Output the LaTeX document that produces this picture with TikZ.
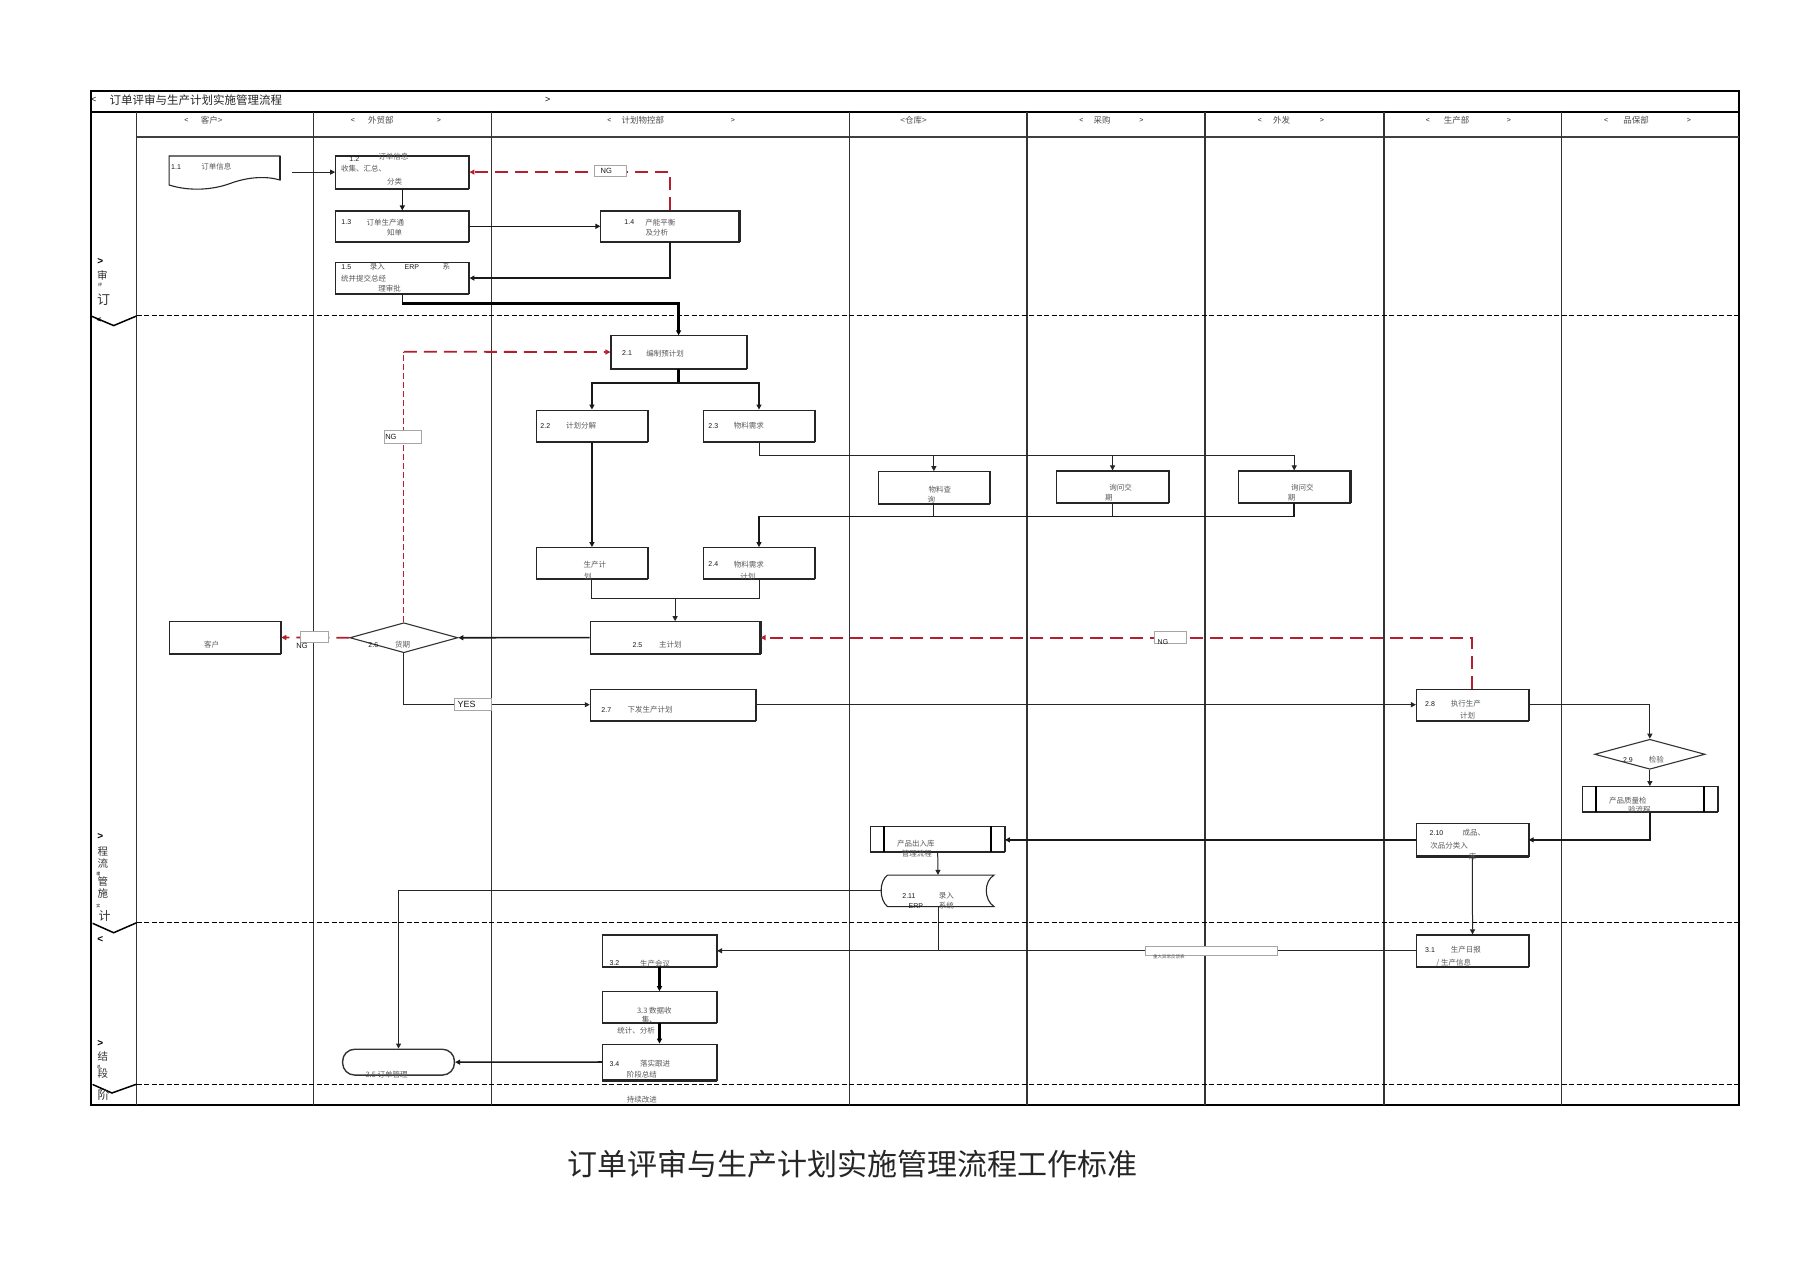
\documentclass[tikz,border=0pt]{standalone}
\usepackage{fontspec}
\setmainfont{Liberation Sans}
\newfontfamily\cjk{Noto Sans CJK SC}
\usetikzlibrary{arrows.meta,shapes.geometric,calc}
\definecolor{ngred}{RGB}{180,30,45}
\tikzset{
  box/.style={draw=black!85, line width=1.1pt, fill=white, inner sep=0pt, rectangle},
  shd/.style={append after command={(\tikzlastnode.north east) edge[line width=2pt,black!85] (\tikzlastnode.south east) (\tikzlastnode.south east) edge[line width=2pt,black!85] (\tikzlastnode.south west)}},
  anchorbox/.style={inner sep=0pt, rectangle},
  num/.style={font=\fontsize{7}{8}\selectfont, text=black!90, inner sep=0pt},
  zh/.style={font=\cjk\fontsize{7.5}{8}\selectfont, text=black!65, inner sep=0pt},
  hd/.style={font=\cjk\fontsize{8.5}{9}\selectfont, text=black!70, inner sep=0pt},
  bandzh/.style={font=\cjk\fontsize{10.5}{11}\selectfont, text=black!80, inner sep=0pt},
  l1/.style={line width=1pt, draw=black!85},
  l2/.style={line width=1.6pt, draw=black!90},
  l3/.style={line width=2.6pt, draw=black},
  arw/.style={-{Triangle[length=5pt,width=5pt]}},
  ngline/.style={draw=ngred, line width=1.8pt, dash pattern=on 13pt off 7pt},
  ngthin/.style={draw=ngred, line width=1pt, dash pattern=on 6pt off 3pt},
  lbl/.style={draw=black!35, fill=white, line width=0.5pt, inner sep=0pt, rectangle},
  sepline/.style={line width=1.1pt, dash pattern=on 5pt off 2.5pt},
}
\newcommand\tz[3]{\node[zh] (#1) at (#2) {#3};}
\newcommand\tn[3]{\node[num] (#1) at (#2) {#3};}
\begin{document}
\begin{tikzpicture}[x=1.1505pt,y=-1.1505pt]
\fill[white] (0,0) rectangle (1568,1107);
\useasboundingbox (0,0) rectangle (1568,1107);

% ---------- frame and lanes ----------
\draw[line width=1.5pt] (79,79) rectangle (1511.5,960.5);
\draw[line width=2pt] (79,97) -- (1511.5,97);
\draw[line width=2.2pt, black!75] (118.8,119.4) -- (1511.5,119.4);
\foreach \x in {118.8,272.8,427.5,738.2,892.6,1047.3,1203,1357.5}
  \draw[line width=1.2pt, black!80] (\x,97) -- (\x,960.5);
\foreach \y in {274.6,802,942.5}
  \draw[sepline] (118.8,\y) -- (1511.5,\y);
\draw[line width=1.5pt] (79,274.6) -- (98.8,283) -- (118.8,274.6);
\draw[line width=1.5pt] (80.5,802.5) -- (98.8,810.7) -- (118.8,802);
\draw[line width=1.5pt] (80.5,942.6) -- (97.3,950) -- (118.8,942.3);

% ---------- title ----------
\node[font=\fontsize{9}{10}\selectfont, inner sep=0pt] (ta) at (81.5,87) {<};
\node[font=\cjk\fontsize{11.5}{12}\selectfont, anchor=west, inner sep=0pt, text=black!85] (tb) at (95,87) {订单评审与生产计划实施管理流程};
\node[font=\fontsize{9}{10}\selectfont, inner sep=0pt] (tc) at (476,87) {>};

% ---------- lane headers ----------
\node[num] (h1a) at (162,104.5) {<};
\node[hd] (h1b) at (184,104.5) {客户>};
\node[num] (h2a) at (306.7,104.5) {<};
\node[hd] (h2b) at (331,104.5) {外贸部};
\node[num] (h2c) at (381.6,104.5) {>};
\node[num] (h3a) at (529.6,104.5) {<};
\node[hd] (h3b) at (558.7,104.5) {计划物控部};
\node[num] (h3c) at (637,104.5) {>};
\node[hd] (h4) at (794,104.5) {<仓库>};
\node[num] (h5a) at (940,104.5) {<};
\node[hd] (h5b) at (958,104.5) {采购};
\node[num] (h5c) at (992,104.5) {>};
\node[num] (h6a) at (1095,104.5) {<};
\node[hd] (h6b) at (1114,104.5) {外发};
\node[num] (h6c) at (1149,104.5) {>};
\node[num] (h7a) at (1241,104.5) {<};
\node[hd] (h7b) at (1266,104.5) {生产部};
\node[num] (h7c) at (1311.4,104.5) {>};
\node[num] (h8a) at (1396,104.5) {<};
\node[hd] (h8b) at (1422,104.5) {品保部};
\node[num] (h8c) at (1468,104.5) {>};

% ---------- phase labels in left band ----------
\node[font=\bfseries\fontsize{10}{10}\selectfont, inner sep=0pt] (p1a) at (87.2,227.5) {>};
\node[bandzh] (p1b) at (89,239) {审};
\node[font=\cjk\fontsize{4}{4}\selectfont, inner sep=0pt] (p1c) at (87,248) {评};
\node[bandzh, font=\cjk\fontsize{13}{13}\selectfont] (p1d) at (90,260.5) {订};
\node[font=\bfseries\fontsize{8}{8}\selectfont, inner sep=0pt] (p1e) at (86,278.5) {<};

\node[font=\bfseries\fontsize{10}{10}\selectfont, inner sep=0pt] (p2a) at (87.2,727.2) {>};
\node[bandzh] (p2b) at (89.5,740.3) {程};
\node[bandzh] (p2c) at (89.5,750.6) {流};
\node[font=\cjk\fontsize{4}{4}\selectfont, inner sep=0pt] (p2d) at (85.5,759.8) {理};
\node[bandzh] (p2e) at (89.5,766.5) {管};
\node[bandzh] (p2f) at (89.5,776.8) {施};
\node[font=\cjk\fontsize{4}{4}\selectfont, inner sep=0pt] (p2g) at (85.5,787) {实};
\node[bandzh, font=\cjk\fontsize{12}{12}\selectfont] (p2h) at (91,796.5) {计};
\node[font=\bfseries\fontsize{10}{10}\selectfont, inner sep=0pt] (p2i) at (87.2,817) {<};

\node[font=\bfseries\fontsize{10}{10}\selectfont, inner sep=0pt] (p3a) at (87.2,906.9) {>};
\node[bandzh] (p3b) at (89.5,918.5) {结};
\node[font=\cjk\fontsize{4}{4}\selectfont, inner sep=0pt] (p3c) at (86,927) {总};
\node[bandzh] (p3d) at (89.5,933) {段};
\node[bandzh, font=\cjk\fontsize{12}{12}\selectfont] (p3e) at (90,952) {阶};

% ---------- phase 1 shapes ----------
\node[anchorbox, minimum width=111.6pt, minimum height=28pt] (n11) at (195.2,148) {};
\draw[line width=1.1pt, black!85] (147,160.8) -- (147,135.6) -- (243.5,135.6) -- (243.5,156.5)
  .. controls (232,153) and (216,153.5) .. (200,159.5)
  .. controls (185,165) and (165,166.5) .. (147,160.8);
\draw[line width=2pt, black!85] (243.5,135.6) -- (243.5,156.5);
\coordinate (c11) at (253.5,149.6);

\node[box, shd, minimum width=133.2pt, minimum height=32.3pt] (n12) at (349.7,149.6) {};
\node[box, shd, minimum width=133.2pt, minimum height=30.6pt] (n13) at (349.7,196.7) {};
\node[box, shd, minimum width=138pt, minimum height=30.6pt] (n14) at (582.3,196.7) {};
\node[box, shd, minimum width=133.2pt, minimum height=30.7pt] (n15) at (349.7,241.7) {};

% ---------- phase 2 shapes ----------
\node[box, shd, minimum width=135.2pt, minimum height=32.4pt] (n21) at (589.8,306) {};
\node[box, shd, minimum width=111.6pt, minimum height=31.6pt] (n22) at (514.5,370.2) {};
\node[box, shd, minimum width=111.6pt, minimum height=31.6pt] (n23) at (659.7,370.2) {};
\node[box, shd, minimum width=111.6pt, minimum height=32.2pt] (nwl) at (811.7,424) {};
\node[box, shd, minimum width=111.6pt, minimum height=31.8pt] (ncg) at (967,423.2) {};
\node[box, shd, minimum width=111.6pt, minimum height=31.8pt] (nwf) at (1124.9,423.2) {};
\node[box, shd, minimum width=111.6pt, minimum height=31.1pt] (nsc) at (514.5,489.5) {};
\node[box, shd, minimum width=111.6pt, minimum height=31.1pt] (n24) at (659.7,489.5) {};
\node[box, shd, minimum width=169.8pt, minimum height=31.8pt] (n25) at (586.8,554.2) {};
\node[draw=black!80, line width=1.1pt, fill=white, shape=diamond, inner sep=0pt, minimum width=108pt, minimum height=30pt] (n26) at (351,554.3) {};
\node[box, shd, minimum width=111.6pt, minimum height=31.5pt] (nkh) at (195.5,554.1) {};
\node[box, shd, minimum width=165.4pt, minimum height=31.1pt] (n27) at (585,612.5) {};
\node[box, shd, minimum width=111.6pt, minimum height=31.1pt] (n28) at (1279.7,612.5) {};
\node[draw=black!80, line width=1.1pt, fill=white, shape=diamond, inner sep=0pt, minimum width=110.4pt, minimum height=30pt] (n29) at (1434,655.6) {};
\node[box, shd, minimum width=134.6pt, minimum height=25pt] (nzj) at (1434,694.6) {};
\draw[line width=2pt] ($(nzj.north west)+(12.2,0)$) -- ($(nzj.south west)+(12.2,0)$);
\draw[line width=2pt] ($(nzj.north east)+(-11.5,0)$) -- ($(nzj.south east)+(-11.5,0)$);
\node[box, shd, minimum width=111.6pt, minimum height=32.2pt] (n210) at (1279.7,730) {};
\node[box, shd, minimum width=133.5pt, minimum height=24.7pt] (ncr) at (815,729.2) {};
\draw[line width=2pt] ($(ncr.north west)+(11.9,0)$) -- ($(ncr.south west)+(11.9,0)$);
\draw[line width=2pt] ($(ncr.north east)+(-11.8,0)$) -- ($(ncr.south east)+(-11.8,0)$);
\node[anchorbox, minimum width=112pt, minimum height=31.5pt] (n211) at (815.3,774.3) {};
\draw[line width=1.1pt, black!85] (771.4,760.6) -- (864,760.6)
  .. controls (855,766) and (855,782) .. (864,788) -- (771.4,788)
  .. controls (764,782) and (764,766) .. (771.4,760.6);

% ---------- phase 3 shapes ----------
\node[box, shd, minimum width=111.6pt, minimum height=31.6pt] (n31) at (1279.9,826.4) {};
\node[box, shd, minimum width=114.1pt, minimum height=31.6pt] (n32) at (573.2,826.4) {};
\node[box, shd, minimum width=114.1pt, minimum height=31.1pt] (n33) at (573.2,875.5) {};
\node[box, shd, minimum width=114.1pt, minimum height=35.9pt] (n34) at (573.2,923.1) {};
\node[draw=black!80, line width=1.4pt, fill=white, rectangle, rounded corners=12pt, inner sep=0pt, minimum width=111.8pt, minimum height=25.8pt] (n35) at (346.4,923.2) {};

% ---------- connectors phase 1 ----------
\draw[l1, arw] (c11) -- (n12.west);
\draw[l2, arw] (n12.south) -- (n13.north);
\draw[l2, arw] (n13.east) -- (n14.west);
\draw[l2, arw] (n14.south) |- (n15.east);
\draw[ngline, arw] (n14.north) |- (n12.east);
\coordinate (c15) at (349.7,263.7);
\draw[l2] (n15.south) -- (c15);
\draw[l3, arw] (c15) -| (n21.north);

% ---------- connectors phase 2 ----------
\coordinate (c21) at (589.8,333);
\draw[l3] (n21.south) -- (c21);
\draw[l2, arw] (c21) -| (n22.north);
\draw[l2, arw] (c21) -| (n23.north);
\coordinate (c23) at (1124.9,395.8);
\draw[l1, arw] (n23.south) |- (c23) -- (nwf.north);
\draw[l1, arw] (nwl.north |- c23) -- (nwl.north);
\draw[l1, arw] (ncg.north |- c23) -- (ncg.north);
\coordinate (c24) at (659.7,449);
\draw[l1] (nwl.south) -- (nwl.south |- c24);
\draw[l1] (ncg.south) -- (ncg.south |- c24);
\draw[l2, arw] (nwf.south) |- (c24) -- (n24.north);
\draw[l2, arw] (n22.south) -- (nsc.north);
\coordinate (c25) at (586.8,520.6);
\draw[l1] (nsc.south) |- (n24.south |- c25) -- (n24.south);
\draw[l1, arw] (c25) -- (n25.north);
\draw[l2, arw] (n25.west) -- (n26.east);
\draw[ngline, arw] (n26.west) -- (nkh.east);
\coordinate (c26) at (351,305.7);
\draw[ngthin] (n26.north) -- (c26);
\draw[ngline, arw] (c26) -- (n21.west);
\draw[l1, arw] (n26.south) |- (n27.west);
\draw[l1, arw] (n27.east) -- (n28.west);
\draw[ngline, arw] (n28.north) |- (n25.east);
\draw[l1, arw] (n28.east) -| (n29.north);
\draw[l1, arw] (n29.south) -- (nzj.north);
\draw[l2, arw] (nzj.south) |- (n210.east);
\draw[l2, arw] (n210.west) -- (ncr.east |- n210.west);
\draw[l1, arw] (ncr.south) -- (n211.north);
\draw[l1, arw] (n211.west) -| (n35.north);

% ---------- connectors phase 3 ----------
\draw[l1, arw] (n210.south) -- (n31.north);
\draw[l1, arw] (n31.west) -- (n32.east);
\draw[l1] (n211.south) -- (n211.south |- n31.west);
\draw[l3, arw] (n32.south) -- (n33.north);
\draw[l3, arw] (n33.south) -- (n34.north);
\draw[l2, arw] (n34.west) -- (n35.east);

% ---------- connector labels ----------
\node[lbl, minimum width=32.5pt, minimum height=11.7pt] (g1) at (530.5,148.5) {};
\node[num, font=\fontsize{7.5}{8}\selectfont] (g1t) at (527,148.3) {NG};
\node[lbl, minimum width=37.3pt, minimum height=12.7pt] (g2) at (349.8,379.5) {};
\node[num, font=\fontsize{7.5}{8}\selectfont] (g2t) at (339.8,380) {NG};
\node[lbl, minimum width=27.4pt, minimum height=11pt] (g3) at (273,553.8) {};
\node[num, font=\fontsize{7.5}{8}\selectfont] (g3t) at (262.5,561) {NG};
\node[lbl, minimum width=31.4pt, minimum height=11.5pt] (g4) at (1017,554) {};
\node[num, font=\fontsize{7}{8}\selectfont] (g4t) at (1010.8,558) {NG};
\node[lbl, minimum width=36.8pt, minimum height=12pt] (g5) at (411,611.8) {};
\node[num, font=\fontsize{9}{9}\selectfont] (g5t) at (405.5,612.3) {YES};
\node[lbl, minimum width=132pt, minimum height=8.3pt] (g6) at (1052.4,826.4) {};
\node[zh, font=\cjk\fontsize{4.5}{5}\selectfont] (g6t) at (1016,831.5) {重大异常反馈表};

% ---------- box texts ----------
\tn{a1}{153,145}{1.1} \tz{a2}{188,145}{订单信息}
\tn{b1}{308,138}{1.2} \tz{b2}{342,136.5}{订单信息} \tz{b3}{316,146.3}{收集、汇总、} \tz{b4}{343,157.5}{分类}
\tn{c1}{301,193.2}{1.3} \tz{c2}{335,193.2}{订单生产通} \tz{c3}{343,201.8}{知单}
\tn{d1}{547,193.2}{1.4} \tz{d2}{574,193.2}{产能平衡} \tz{d3}{571,201.8}{及分析}
\tn{e1}{301,231.8}{1.5} \tz{e2}{328,231.8}{录入} \tn{e3}{358,231.8}{ERP} \tz{e4}{388,231.8}{系}
\tz{e5}{316,241.8}{统并提交总经} \tz{e6}{338.6,250.5}{理审批}
\tn{f1}{545,307}{2.1} \tz{f2}{578,307}{编制预计划}
\tn{g7}{474,370.3}{2.2} \tz{g8}{505,370.3}{计划分解}
\tn{i1}{620,370.3}{2.3} \tz{i2}{651,370.3}{物料需求}
\tz{j1}{817,426}{物料查} \tz{j2}{809.5,434.6}{询}
\tz{k1}{974,423.6}{询问交} \tz{k2}{963.7,432.3}{期}
\tz{k3}{1132,423.6}{询问交} \tz{k4}{1122.6,432.3}{期}
\tz{m1}{517,490.4}{生产计} \tz{m2}{511,501}{划}
\tn{o1}{620,490.4}{2.4} \tz{o2}{651,490.4}{物料需求} \tz{o3}{650,501}{计划}
\tn{q1}{554,560.6}{2.5} \tz{q2}{582.6,560.6}{主计划}
\tn{r1}{324.5,560.6}{2.6} \tz{r2}{350,560.6}{货期}
\tz{s1}{184,560.6}{客户}
\tn{u1}{527,617}{2.7} \tz{u2}{565,617}{下发生产计划}
\tn{v1}{1243,612}{2.8} \tz{v2}{1274,612}{执行生产} \tz{v3}{1275.6,622}{计划}
\tn{w1}{1415,660.6}{2.9} \tz{w2}{1439.7,660.6}{检验}
\tz{w3}{1415,696.3}{产品质量检} \tz{w4}{1425,704}{验流程}
\tn{y1}{1248.6,724}{2.10} \tz{y2}{1281,724}{成品、} \tz{y3}{1259.5,735.3}{次品分类入} \tz{y4}{1280,745}{库}
\tz{z1}{796,733}{产品出入库} \tz{z2}{797,741.7}{管理流程}
\tn{z3}{790,778.8}{2.11} \tz{z4}{822.6,778.8}{录入} \tn{z5}{796,787.5}{ERP} \tz{z6}{822.6,787.5}{系统}
\tn{x1}{1243,825.7}{3.1} \tz{x2}{1274,825.7}{生产日报} \tz{x3}{1263.6,837.3}{/ 生产信息}
\tn{x4}{534,837.3}{3.2} \tz{x5}{569.5,837.3}{生产会议}
\tz{x6}{568.7,878}{3.3 数据收} \tz{x7}{564.5,886}{集、} \tz{x8}{553,895.8}{统计、分析}
\tn{x9}{534,924.8}{3.4} \tz{x10}{569.5,924.8}{落实跟进} \tz{x11}{558,934.4}{阶段总结}
\tz{x12}{336,934.4}{3.5 订单管理}
\tz{x13}{558,956}{持续改进}

% ---------- bottom title ----------
\node[font=\cjk\fontsize{30}{32}\selectfont, inner sep=0pt, text=black!85] (btitle) at (741,1012) {订单评审与生产计划实施管理流程工作标准};
\end{tikzpicture}
\end{document}
